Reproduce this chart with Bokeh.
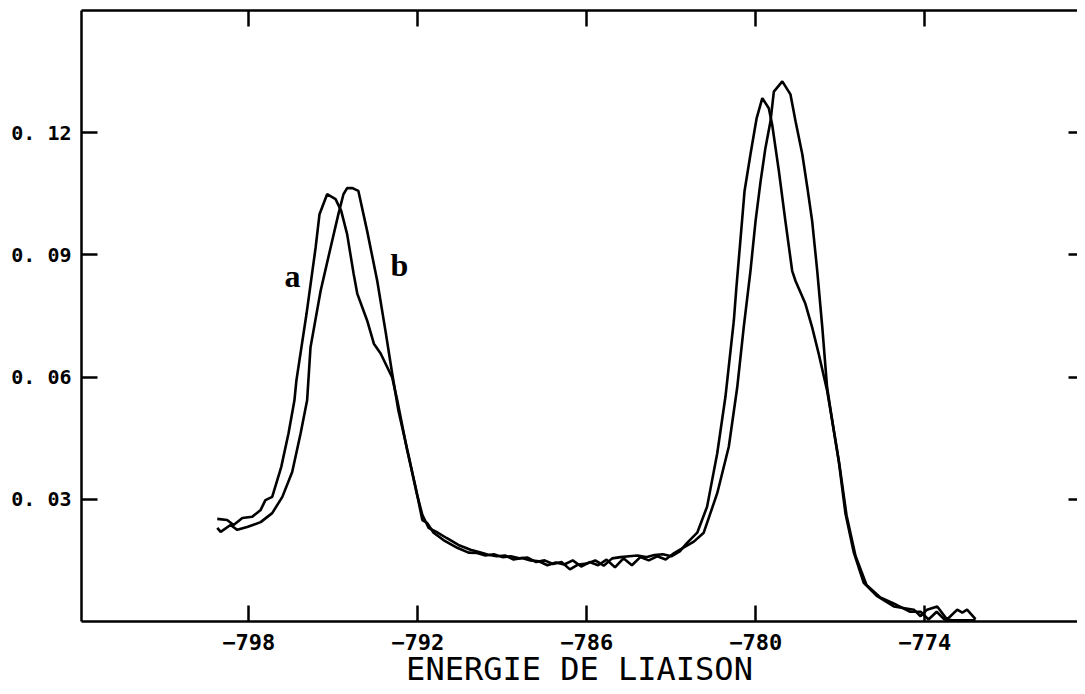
from bokeh.plotting import figure
from bokeh.models import Range1d, LinearAxis, FixedTicker
from bokeh.core.properties import value
from bokeh.embed import file_html
from bokeh.resources import INLINE

# ---- data (binding energy in eV, intensity) ----
a_x = [-799.12, -798.77, -798.54, -798.23, -797.88, -797.58, -797.41, -797.17, -796.85,
       -796.59, -796.38, -796.31, -795.95, -795.63, -795.49, -795.22, -794.92, -794.72,
       -794.51, -794.28, -794.15, -793.80, -793.56, -793.32, -792.91, -792.73, -792.38,
       -792.08, -791.84, -791.67, -791.44, -791.09, -790.60, -790.20,
       -789.9, -789.6, -789.3, -789.0, -788.7, -788.4, -788.1, -787.8, -787.5, -787.2,
       -786.9, -786.6, -786.3, -786.0, -785.7, -785.4, -785.1, -784.8, -784.5, -784.2,
       -783.9, -783.6, -783.3, -783.0, -782.7,
       -782.44, -782.08, -781.73, -781.37, -781.08, -780.78, -780.69, -780.54, -780.40,
       -780.19, -779.97, -779.77, -779.54, -779.42, -779.18, -778.95, -778.71, -778.59,
       -778.24, -778.00, -777.77, -777.47, -777.29, -777.06, -776.82, -776.52, -776.17,
       -775.69, -775.10, -774.39, -774.15, -773.92, -773.56, -773.21, -772.85, -772.67,
       -772.50, -772.20]
a_y = [0.0252, 0.0249, 0.0237, 0.0254, 0.0257, 0.0274, 0.0298, 0.0306, 0.0379,
       0.0462, 0.0543, 0.0592, 0.0756, 0.0917, 0.1000, 0.1049, 0.1037, 0.1008,
       0.0951, 0.0854, 0.0805, 0.0739, 0.0682, 0.0658, 0.0599, 0.0543, 0.0421,
       0.0330, 0.0249, 0.0242, 0.0218, 0.0200, 0.0181, 0.0169,
       0.0168, 0.0162, 0.0165, 0.0158, 0.0160, 0.0155, 0.0157, 0.0146, 0.0150, 0.0141,
       0.0146, 0.0128, 0.0140, 0.0142, 0.0150, 0.0137, 0.0155, 0.0158, 0.0160, 0.0162,
       0.0158, 0.0163, 0.0165, 0.0160, 0.0172,
       0.0193, 0.0218, 0.0282, 0.0413, 0.0551, 0.0739, 0.0820, 0.0942, 0.1057,
       0.1147, 0.1236, 0.1285, 0.1260, 0.1220, 0.1105, 0.0983, 0.0861, 0.0836,
       0.0780, 0.0722, 0.0658, 0.0567, 0.0494, 0.0396, 0.0266, 0.0169, 0.0095,
       0.0062, 0.0037, 0.0029, 0.0013, 0.0029, 0.0037, 0.0005, 0.0029, 0.0022,
       0.0029, 0.0006]

b_x = [-799.12, -799.00, -798.65, -798.41, -798.06, -797.58, -797.17, -796.81, -796.46,
       -796.16, -795.93, -795.81, -795.45, -795.10, -794.82, -794.64, -794.51, -794.32,
       -794.11, -793.80, -793.44, -793.15, -792.91, -792.69, -792.33, -792.05, -791.84,
       -791.62, -791.34, -790.98, -790.56, -790.13,
       -789.8, -789.5, -789.2, -788.9, -788.6, -788.3, -788.0, -787.7, -787.4, -787.1,
       -786.8, -786.5, -786.2, -785.9, -785.6, -785.3, -785.0, -784.7, -784.4, -784.1,
       -783.8, -783.5, -783.2, -782.9, -782.6,
       -782.20, -781.85, -781.37, -780.96, -780.66, -780.43, -780.19, -780.01, -779.83,
       -779.66, -779.48, -779.36, -779.06, -778.77, -778.59, -778.35, -778.17, -778.00,
       -777.82, -777.64, -777.47, -777.28, -777.03, -776.78, -776.46, -776.07, -775.58,
       -775.01, -774.52, -774.15, -773.87, -773.58, -773.30, -773.01, -772.59, -772.20]
b_y = [0.0230, 0.0220, 0.0237, 0.0225, 0.0232, 0.0244, 0.0266, 0.0306, 0.0367,
       0.0462, 0.0543, 0.0673, 0.0812, 0.0917, 0.1000, 0.1049, 0.1064, 0.1064,
       0.1057, 0.0959, 0.0836, 0.0714, 0.0609, 0.0518, 0.0408, 0.0318, 0.0262,
       0.0230, 0.0220, 0.0205, 0.0188, 0.0176,
       0.0170, 0.0164, 0.0160, 0.0162, 0.0152, 0.0156, 0.0150, 0.0148, 0.0138, 0.0145,
       0.0140, 0.0150, 0.0135, 0.0146, 0.0138, 0.0152, 0.0133, 0.0155, 0.0138, 0.0158,
       0.0150, 0.0160, 0.0152, 0.0168, 0.0180,
       0.0196, 0.0218, 0.0315, 0.0429, 0.0575, 0.0722, 0.0861, 0.0983, 0.1081,
       0.1162, 0.1228, 0.1301, 0.1326, 0.1294, 0.1228, 0.1147, 0.1065, 0.0983,
       0.0861, 0.0722, 0.0575, 0.0489, 0.0384, 0.0261, 0.0161, 0.0090, 0.0059,
       0.0041, 0.0024, 0.0024, 0.0005, 0.0024, 0.0005, 0.0003, 0.0003, 0.0003]

x_ticks = [-798, -792, -786, -780, -774]
y_ticks = [0.03, 0.06, 0.09, 0.12]
y_tick_labels = ["0. 03", "0. 06", "0. 09", "0. 12"]
x_title = "ENERGIE DE LIAISON"
curve_names = ["a", "b"]
name_pos_x = [-796.45, -792.65]
name_pos_y = [0.0849, 0.0875]

p = figure(width=1077, height=692, x_range=Range1d(-803.94, -768.58), y_range=Range1d(0, 0.15),
           output_backend="svg", toolbar_location=None,
           x_axis_location=None, y_axis_location=None,
           min_border_left=81, min_border_right=0, min_border_top=10, min_border_bottom=71)
p.outline_line_color = None
p.xgrid.visible = False
p.ygrid.visible = False
p.background_fill_color = "white"
p.border_fill_color = "white"


def style(ax, labels=True, line=True, tick_in=16, size="22px"):
    ax.axis_line_width = 2.5
    ax.axis_line_color = "black" if line else None
    ax.major_tick_line_width = 2.5
    ax.major_tick_in = tick_in
    ax.major_tick_out = 0
    ax.minor_tick_line_color = None
    if labels:
        ax.major_label_text_font = "DejaVu Sans Mono"
        ax.major_label_text_font_size = size
        ax.major_label_text_font_style = "bold"
        ax.major_label_text_color = "black"
        ax.major_label_standoff = 9
    else:
        ax.major_label_text_font_size = "0px"
        ax.major_label_text_color = None
        ax.major_label_standoff = 0


xb = LinearAxis(ticker=FixedTicker(ticks=x_ticks))
style(xb)
xb.major_label_standoff = 12
xb.axis_label = x_title
xb.axis_label_text_font = "DejaVu Sans Mono"
xb.axis_label_text_font_size = "32px"
xb.axis_label_text_font_style = "normal"
xb.axis_label_text_color = "black"
xb.axis_label_standoff = -3
p.add_layout(xb, "below")

xt = LinearAxis(ticker=FixedTicker(ticks=x_ticks))
style(xt, labels=False)
p.add_layout(xt, "above")

yl = LinearAxis(ticker=FixedTicker(ticks=y_ticks))
style(yl, size="20px")
yl.major_label_standoff = 10
yl.major_label_overrides = {t: l for t, l in zip(y_ticks, y_tick_labels)}
p.add_layout(yl, "left")

yr = LinearAxis(ticker=FixedTicker(ticks=y_ticks))
style(yr, labels=False, line=False, tick_in=9)
p.add_layout(yr, "right")

p.line(a_x, a_y, line_color="black", line_width=2.6)
p.line(b_x, b_y, line_color="black", line_width=2.6)

p.text(x=name_pos_x, y=name_pos_y, text=curve_names, text_font=value("Liberation Serif"),
       text_font_style="bold", text_font_size="32px", text_align="center",
       text_baseline="alphabetic", text_color="black")

open("out.html", "w").write(file_html(p, INLINE))
